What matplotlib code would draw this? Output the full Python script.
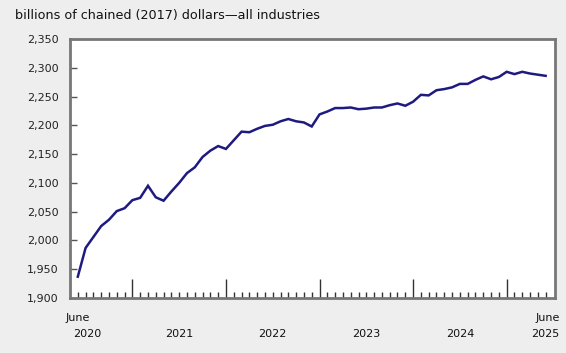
import matplotlib.pyplot as plt
from matplotlib.ticker import FuncFormatter
import matplotlib.transforms as mtransforms

# monthly values, June 2020 to June 2025
values = [1937, 1987, 2006, 2025, 2036, 2051, 2056, 2070, 2074, 2095,
          2075, 2069, 2085, 2100, 2117, 2127, 2145, 2156, 2164, 2159,
          2174, 2189, 2188, 2194, 2199, 2201, 2207, 2211, 2207, 2205,
          2198, 2219, 2224, 2230, 2230, 2231, 2228, 2229, 2231, 2231,
          2235, 2238, 2234, 2241, 2253, 2252, 2261, 2263, 2266, 2272,
          2272, 2279, 2285, 2280, 2284, 2293, 2289, 2293, 2290, 2288, 2286]
years = ['2021', '2022', '2023', '2024']
jan_idx = [7, 19, 31, 43, 55]
title = 'billions of chained (2017) dollars\u2014all industries'

bg = '#eeeeee'
fig = plt.figure(figsize=(5.66, 3.53), dpi=100, facecolor=bg)
ax = fig.add_axes([70/566, 55/353, 485/566, 259/353])
ax.set_facecolor('white')

x = list(range(len(values)))
ax.plot(x, values, color='#1f1a80', lw=1.8, solid_joinstyle='miter')

ax.set_xlim(-1, 61.2)
ax.set_ylim(1900, 2350)
ax.set_yticks(range(1900, 2351, 50))
ax.yaxis.set_major_formatter(FuncFormatter(lambda v, p: f'{int(v):,}'))
ax.tick_params(axis='y', direction='in', length=5, width=1, color='#555555',
               labelsize=8, pad=8, labelcolor='#222222')

ax.set_xticks(jan_idx)
ax.set_xticks(x, minor=True)
ax.set_xticklabels([])
ax.tick_params(axis='x', which='major', direction='in', length=14, width=1, color='#333333')
ax.tick_params(axis='x', which='minor', direction='in', length=4, width=1, color='#333333')

for s in ax.spines.values():
    s.set_color('#777777')
    s.set_linewidth(2)

trans = mtransforms.blended_transform_factory(ax.transData, fig.transFigure)
fs = 8
ax.text(-1.6, 1 - 318/353, 'June', transform=trans, fontsize=fs, ha='left', va='center', color='#111111')
ax.text(-0.6, 1 - 334/353, '2020', transform=trans, fontsize=fs, ha='left', va='center', color='#111111')
for i, yr in enumerate(years):
    mid = (jan_idx[i] + jan_idx[i + 1]) / 2
    ax.text(mid, 1 - 334/353, yr, transform=trans, fontsize=fs, ha='center', va='center', color='#111111')
ax.text(61.8, 1 - 318/353, 'June', transform=trans, fontsize=fs, ha='right', va='center', color='#111111')
ax.text(61.8, 1 - 334/353, '2025', transform=trans, fontsize=fs, ha='right', va='center', color='#111111')

fig.text(15/566, 1 - 15/353, title, fontsize=9.2, ha='left', va='center', color='#111111')

fig.savefig('out.png', dpi=100, facecolor=bg)
